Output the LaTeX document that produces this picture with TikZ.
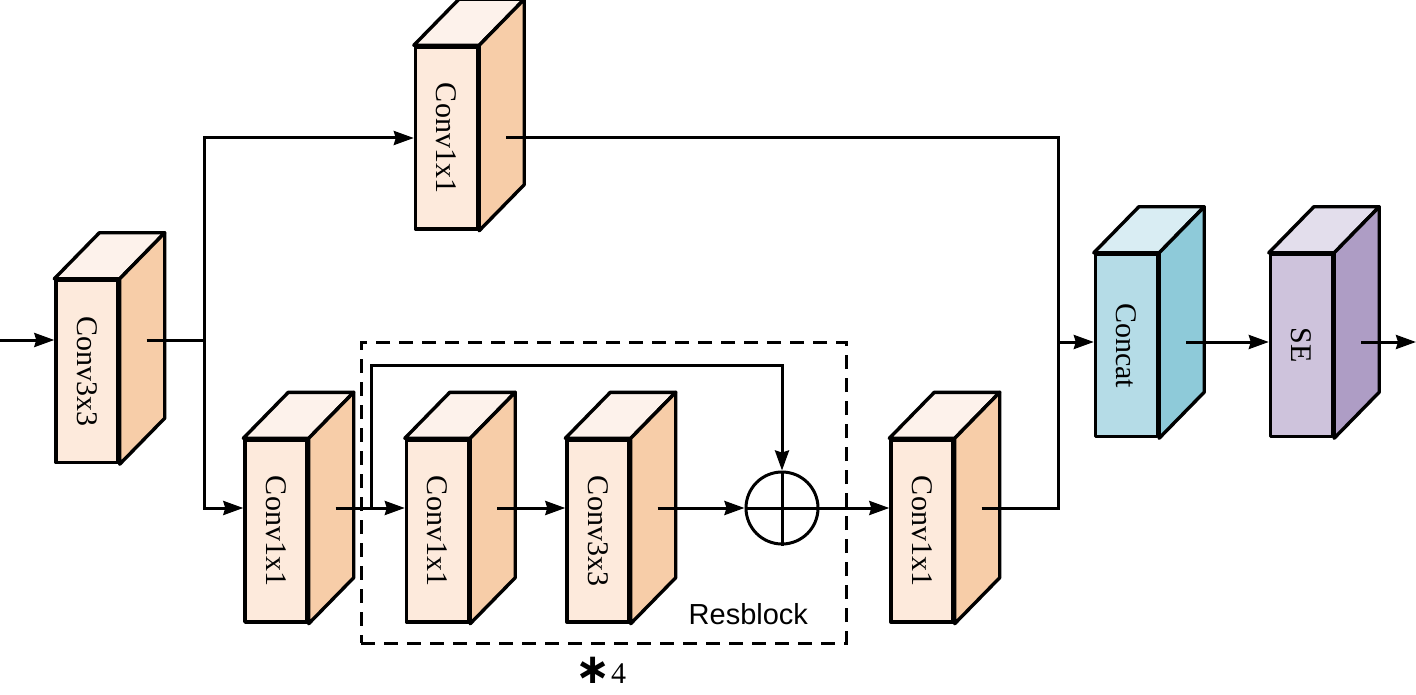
\documentclass[tikz,border=0pt]{standalone}
\usepackage{fontspec}
\setmainfont{Liberation Serif}
\setsansfont{Liberation Sans}
\newfontfamily\symfont{DejaVu Sans}
\usetikzlibrary{arrows.meta, calc}

\definecolor{peachfront}{HTML}{FDEADC}
\definecolor{peachtop}{HTML}{FDF2EB}
\definecolor{peachside}{HTML}{F7CDA8}
\definecolor{bluefront}{HTML}{B5DCE7}
\definecolor{bluetop}{HTML}{D9EDF3}
\definecolor{blueside}{HTML}{8ECAD9}
\definecolor{lilacfront}{HTML}{CEC3DC}
\definecolor{lilactop}{HTML}{E3DEEC}
\definecolor{lilacside}{HTML}{AE9DC5}

\tikzset{
  face/.style={draw, line width=3.4pt, line join=round, minimum width=62, minimum height=182,
    inner sep=0pt, font=\fontsize{30}{32}\selectfont},
  link/.style={line width=3pt},
  arr/.style={link, -{Stealth[length=20pt, width=14pt, inset=2pt]}},
  resbox/.style={draw, line width=3pt, dash pattern=on 14pt off 9pt,
    minimum width=485, minimum height=301, inner sep=0pt},
  adder/.style={draw, circle, line width=3pt, minimum size=72, inner sep=0pt, fill=white},
}

% front face as a node, top and side faces drawn from its anchors
\newcommand{\cuboid}[6]{%
  \node[face, fill=#4] (#1) at (#2) {\rotatebox{-90}{#3}};
  \draw[line width=3.4pt, line join=round, fill=#5] (#1.north west) -- ++(45,-46)
    -- ($(#1.north east)+(45,-46)$) -- (#1.north east) -- cycle;
  \draw[line width=3.4pt, line join=round, fill=#6] (#1.north east) -- ++(45,-46)
    -- ($(#1.south east)+(45,-46)$) -- (#1.south east) -- cycle;
  \coordinate (#1-out) at ($(#1.east)+(27,0)$);
}

\begin{document}
\begin{tikzpicture}[x=1pt, y=-1pt]
  \useasboundingbox (0,0) rectangle (1416,695);

  % resblock frame
  \node[resbox] (res) at (603.5,492.5) {};
  \node[font=\sffamily\fontsize{29}{31}\selectfont, anchor=base east]
    (reslabel) at ($(res.south east)+(-36,-20)$) {Resblock};
  \node[font=\fontsize{30}{32}\selectfont, anchor=base, inner sep=0pt] (reps) at (601,683)
    {{\symfont\bfseries\fontsize{42}{42}\selectfont ∗}4};

  % blocks
  \cuboid{c33}{87,371.5}{Conv3x3}{peachfront}{peachtop}{peachside}
  \cuboid{top}{446.5,138}{Conv1x1}{peachfront}{peachtop}{peachside}
  \cuboid{b1}{276,531}{Conv1x1}{peachfront}{peachtop}{peachside}
  \cuboid{r1}{437.5,531}{Conv1x1}{peachfront}{peachtop}{peachside}
  \cuboid{r2}{598,531}{Conv3x3}{peachfront}{peachtop}{peachside}
  \cuboid{b2}{922,531}{Conv1x1}{peachfront}{peachtop}{peachside}
  \cuboid{cat}{1126.5,345.5}{Concat}{bluefront}{bluetop}{blueside}
  \cuboid{se}{1301.5,345.5}{SE}{lilacfront}{lilactop}{lilacside}

  \node[adder] (add) at (782,508) {};
  \draw[link] (add.north) -- (add.south);
  \draw[link] (add.west) -- (add.east);

  % helper points
  \coordinate (in) at (0,340);
  \coordinate (split) at (204,340);
  \coordinate (row) at (0,508);
  \coordinate (skip) at (371,508);
  \coordinate (skiptop) at (371,365);
  \coordinate (merge) at (1058,342);
  \coordinate (out) at (1416,342);

  % connectors
  \draw[arr] (in) -- (c33.west |- in);
  \draw[link] (c33-out |- split) -- (split);
  \draw[arr] (split) |- (top.west);
  \draw[arr] (split) |- (b1.west |- row);
  \draw[arr] (b1-out |- row) -- (r1.west |- row);
  \draw[arr] (skip) -- (skiptop) -| (add.north);
  \draw[arr] (r1-out |- row) -- (r2.west |- row);
  \draw[arr] (r2-out |- row) -- (add.west);
  \draw[arr] (add.east) -- (b2.west |- row);
  \draw[link] (top-out) -| (merge);
  \draw[link] (b2-out |- row) -| (merge);
  \draw[arr] (merge) -- (cat.west |- merge);
  \draw[arr] (cat-out |- merge) -- (se.west |- merge);
  \draw[arr] (se-out |- merge) -- (out);
\end{tikzpicture}
\end{document}
